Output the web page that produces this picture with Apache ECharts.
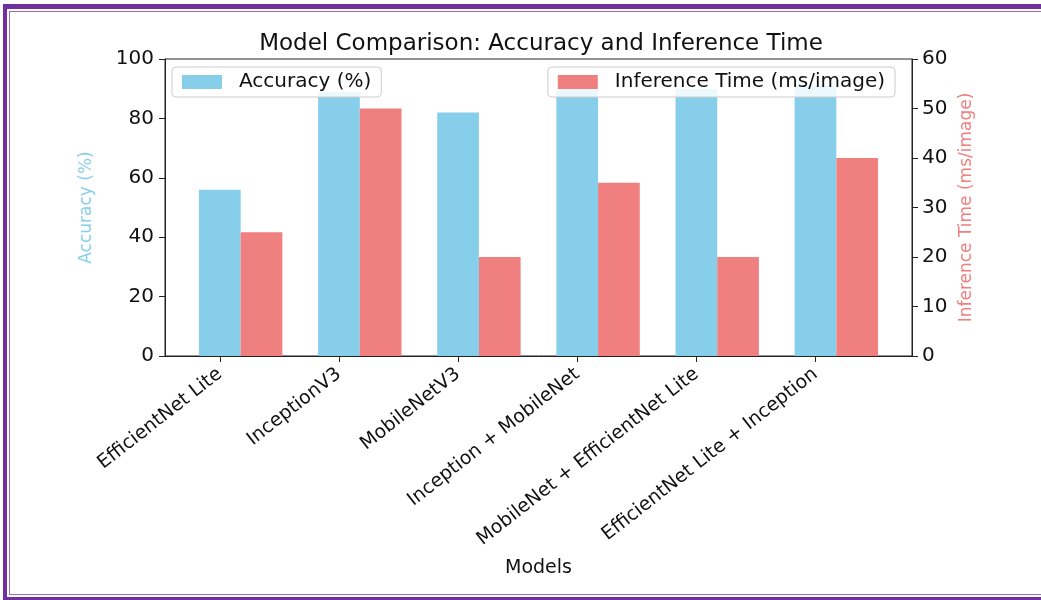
<!DOCTYPE html>
<html>
<head>
<meta charset="utf-8">
<script src="https://cdn.jsdelivr.net/npm/echarts@6/dist/echarts.min.js"></script>
<style>
  html, body { margin: 0; padding: 0; background: #fff; }
  #frame { position: absolute; left: 3px; top: 4px; width: 1100px; height: 588px;
           border: 4px solid #7030a0; border-top-width: 5px; border-bottom-width: 3px; box-sizing: content-box; }
  #inner { position: absolute; left: 2px; top: 2px; right: 2px; bottom: 2px; border: 1px solid #9a6cc4; }
  #chart { position: absolute; left: 0; top: 0; width: 1041px; height: 600px; }
</style>
</head>
<body>
<div id="frame"><div id="inner"></div></div>
<div id="chart"></div>
<script>
const categories = ['EfficientNet Lite', 'InceptionV3', 'MobileNetV3', 'Inception + MobileNet', 'MobileNet + EfficientNet Lite', 'EfficientNet Lite + Inception'];
const accuracy = [56, 89, 82, 90, 90, 91];
const inferenceTime = [25, 50, 20, 35, 20, 40];
const accTicks = [0, 20, 40, 60, 80, 100];
const timeTicks = [0, 10, 20, 30, 40, 50, 60];

const BAR_W = 0.35;            // bar width in category units
const X_MIN = -0.46, X_MAX = 5.81;
const GRID = { left: 165, top: 59, width: 747, height: 297 };
const barPx = GRID.width / (X_MAX - X_MIN) * BAR_W;
const catIdx = categories.map((_, i) => i);

const font = 'DejaVu Sans';
const chart = echarts.init(document.getElementById('chart'), null, { renderer: 'canvas' });
const legendCommon = {
  top: 67, itemWidth: 40, itemHeight: 14, icon: 'rect',
  padding: [5, 10], borderColor: '#ccc', borderWidth: 1, borderRadius: 4,
  backgroundColor: 'rgba(255,255,255,0.85)',
  textStyle: { fontFamily: font, fontSize: 20, color: '#111', padding: [0, 0, 0, 12] }
};
chart.setOption({
  backgroundColor: 'transparent',
  animation: false,
  textStyle: { fontFamily: font },
  title: {
    text: 'Model Comparison: Accuracy and Inference Time',
    left: 536, top: 28, textAlign: 'center',
    textStyle: { fontFamily: font, fontSize: 23, fontWeight: 'normal', color: '#111' }
  },
  legend: [
    Object.assign({ data: ['Accuracy (%)'], left: 172 }, legendCommon),
    Object.assign({ data: ['Inference Time (ms/image)'], right: 146 }, legendCommon)
  ],
  grid: { left: GRID.left, top: GRID.top, width: GRID.width, height: GRID.height,
          show: true, borderColor: '#222', borderWidth: 1, containLabel: false },
  xAxis: {
    type: 'value', min: X_MIN, max: X_MAX,
    name: 'Models', nameLocation: 'middle', nameGap: 203,
    nameTextStyle: { fontFamily: font, fontSize: 19, color: '#111' },
    axisLine: { show: true, onZero: false, lineStyle: { color: '#222', width: 1 } },
    axisTick: { show: true, length: 6, customValues: catIdx, lineStyle: { color: '#222' } },
    axisLabel: { customValues: catIdx, rotate: 38, margin: 16, fontSize: 19, color: '#111',
                 fontFamily: font, formatter: v => categories[Math.round(v)] },
    splitLine: { show: false }
  },
  yAxis: [
    { type: 'value', min: 0, max: 100, interval: 20,
      name: 'Accuracy (%)', nameLocation: 'middle', nameGap: 70, nameRotate: 90,
      nameTextStyle: { fontFamily: font, fontSize: 17, color: '#87ceeb' },
      axisLine: { show: true, onZero: false, lineStyle: { color: '#222' } },
      axisTick: { show: true, length: 6, lineStyle: { color: '#222' } },
      axisLabel: { fontSize: 20, color: '#111', margin: 11, fontFamily: font,
                   formatter: v => accTicks.includes(v) ? String(v) : '' },
      splitLine: { show: false } },
    { type: 'value', min: 0, max: 60, interval: 10, position: 'right',
      name: 'Inference Time (ms/image)', nameLocation: 'middle', nameGap: 44, nameRotate: 90,
      nameTextStyle: { fontFamily: font, fontSize: 17, color: '#f08080' },
      axisLine: { show: true, onZero: false, lineStyle: { color: '#222' } },
      axisTick: { show: true, length: 6, lineStyle: { color: '#222' } },
      axisLabel: { fontSize: 20, color: '#111', margin: 10, fontFamily: font,
                   formatter: v => timeTicks.includes(v) ? String(v) : '' },
      splitLine: { show: false } }
  ],
  series: [
    { name: 'Accuracy (%)', type: 'bar', yAxisIndex: 0, barWidth: barPx, barGap: '0%',
      itemStyle: { color: '#87ceeb' },
      data: accuracy.map((v, i) => [i + BAR_W / 2, v]) },
    { name: 'Inference Time (ms/image)', type: 'bar', yAxisIndex: 1, barWidth: barPx, barGap: '0%',
      itemStyle: { color: '#f08080' },
      data: inferenceTime.map((v, i) => [i + BAR_W / 2, v]) }
  ]
});
</script>
</body>
</html>
